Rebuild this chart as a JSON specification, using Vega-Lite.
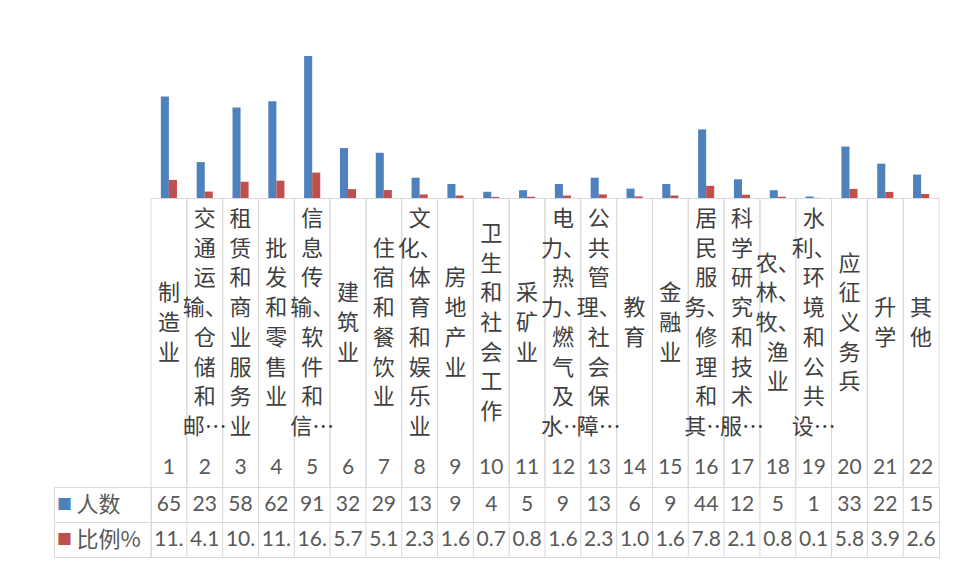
{
  "$schema": "https://vega.github.io/schema/vega-lite/v6.json",
  "padding": {"left": 53, "top": 42, "right": 0, "bottom": 0},
  "background": "white",
  "config": {"view": {"stroke": null}, "font": "Noto Sans CJK SC"},
  "datasets": {
    "industry": [
      {"idx": 1, "name": "制造业", "count": 65, "ratio": 11.6},
      {"idx": 2, "name": "交通运输、仓储和邮…", "count": 23, "ratio": 4.1},
      {"idx": 3, "name": "租赁和商业服务业", "count": 58, "ratio": 10.4},
      {"idx": 4, "name": "批发和零售业", "count": 62, "ratio": 11.1},
      {"idx": 5, "name": "信息传输、软件和信…", "count": 91, "ratio": 16.3},
      {"idx": 6, "name": "建筑业", "count": 32, "ratio": 5.7},
      {"idx": 7, "name": "住宿和餐饮业", "count": 29, "ratio": 5.1},
      {"idx": 8, "name": "文化、体育和娱乐业", "count": 13, "ratio": 2.3},
      {"idx": 9, "name": "房地产业", "count": 9, "ratio": 1.6},
      {"idx": 10, "name": "卫生和社会工作", "count": 4, "ratio": 0.7},
      {"idx": 11, "name": "采矿业", "count": 5, "ratio": 0.8},
      {"idx": 12, "name": "电力、热力、燃气及水…", "count": 9, "ratio": 1.6},
      {"idx": 13, "name": "公共管理、社会保障…", "count": 13, "ratio": 2.3},
      {"idx": 14, "name": "教育", "count": 6, "ratio": 1.0},
      {"idx": 15, "name": "金融业", "count": 9, "ratio": 1.6},
      {"idx": 16, "name": "居民服务、修理和其…", "count": 44, "ratio": 7.8},
      {"idx": 17, "name": "科学研究和技术服…", "count": 12, "ratio": 2.1},
      {"idx": 18, "name": "农、林、牧、渔业", "count": 5, "ratio": 0.8},
      {"idx": 19, "name": "水利、环境和公共设…", "count": 1, "ratio": 0.1},
      {"idx": 20, "name": "应征义务兵", "count": 33, "ratio": 5.8},
      {"idx": 21, "name": "升学", "count": 22, "ratio": 3.9},
      {"idx": 22, "name": "其他", "count": 15, "ratio": 2.6}
    ]
  },
  "columns": 2,
  "spacing": 0,
  "bounds": "flush",
  "concat": [
    {"width": 97, "height": 156, "data": {"values": [{}]}, "mark": {"type": "text", "text": ""}},
    {
      "width": 788, "height": 156,
      "data": {"name": "industry"},
      "transform": [{"fold": ["count", "ratio"], "as": ["series", "value"]}],
      "mark": {"type": "bar"},
      "encoding": {
        "x": {"field": "idx", "type": "ordinal", "scale": {"paddingInner": 0.55, "paddingOuter": 0.275},
              "axis": {"labels": false, "ticks": false, "domain": true, "domainColor": "#d9d9d9", "title": null, "grid": false}},
        "xOffset": {"field": "series", "type": "nominal", "scale": {"domain": ["count", "ratio"]}},
        "y": {"field": "value", "type": "quantitative", "scale": {"domain": [0, 100]}, "axis": null},
        "color": {"field": "series", "type": "nominal", "scale": {"domain": ["count", "ratio"], "range": ["#4f81bd", "#c0504d"]}, "legend": null}
      }
    },
    {"width": 97, "height": 250, "data": {"values": [{}]}, "mark": {"type": "text", "text": ""}},
    {
      "width": 788, "height": 250,
      "data": {"name": "industry"},
      "transform": [
        {"calculate": "split(datum.name, regexp('(?![、…])'))", "as": "lines"},
        {"calculate": "(length(datum.lines) - 1) / 2", "as": "lift"}
      ],
      "layer": [
        {"mark": {"type": "rule", "color": "#d9d9d9"},
         "encoding": {"x": {"field": "idx", "type": "ordinal", "bandPosition": 0, "scale": {"type": "band", "paddingInner": 0, "paddingOuter": 0}, "axis": null}}},
        {"mark": {"type": "rule", "color": "#d9d9d9"},
         "encoding": {"x": {"field": "idx", "type": "ordinal", "bandPosition": 1}}},
        {"mark": {"type": "text", "fontSize": 22, "lineHeight": 29.7, "color": "#404040", "baseline": "middle"},
         "encoding": {
           "x": {"field": "idx", "type": "ordinal"},
           "y": {"field": "lift", "type": "quantitative", "scale": {"domain": [-4.21, 4.21]}, "axis": null},
           "text": {"field": "lines"}}}
      ]
    },
    {"width": 97, "height": 39, "data": {"values": [{}]}, "mark": {"type": "text", "text": ""}},
    {
      "width": 788, "height": 39,
      "data": {"name": "industry"},
      "layer": [
        {"mark": {"type": "rule", "color": "#d9d9d9"},
         "encoding": {"x": {"field": "idx", "type": "ordinal", "bandPosition": 0, "scale": {"type": "band", "paddingInner": 0, "paddingOuter": 0}, "axis": null}}},
        {"mark": {"type": "rule", "color": "#d9d9d9"},
         "encoding": {"x": {"field": "idx", "type": "ordinal", "bandPosition": 1}}},
        {"mark": {"type": "text", "font": "Lato", "fontSize": 21, "color": "#595959", "baseline": "middle"},
         "encoding": {"x": {"field": "idx", "type": "ordinal"}, "text": {"field": "idx", "type": "ordinal"}}}
      ]
    },
    {
      "width": 97, "height": 35, "view": {"stroke": "#d9d9d9"},
      "data": {"values": [{"series": "人数"}]},
      "layer": [
        {"mark": {"type": "text", "text": "■", "color": "#4f81bd", "fontSize": 15, "dx": -38, "baseline": "middle"}, "encoding": {}},
        {"mark": {"type": "text", "align": "left", "dx": -26, "fontSize": 22, "color": "#595959", "baseline": "middle"}, "encoding": {"text": {"field": "series"}}}
      ]
    },
    {
      "width": 788, "height": 35, "view": {"stroke": "#d9d9d9"},
      "data": {"name": "industry"},
      "layer": [
        {"mark": {"type": "rule", "color": "#d9d9d9"},
         "encoding": {"x": {"field": "idx", "type": "ordinal", "bandPosition": 0, "scale": {"type": "band", "paddingInner": 0, "paddingOuter": 0}, "axis": null}}},
        {"mark": {"type": "text", "font": "Lato", "fontSize": 21, "color": "#595959", "baseline": "middle"},
         "encoding": {"x": {"field": "idx", "type": "ordinal"}, "text": {"field": "count", "type": "quantitative"}}}
      ]
    },
    {
      "width": 97, "height": 35, "view": {"stroke": "#d9d9d9"},
      "data": {"values": [{"series": "比例%"}]},
      "layer": [
        {"mark": {"type": "text", "text": "■", "color": "#c0504d", "fontSize": 15, "dx": -38, "baseline": "middle"}, "encoding": {}},
        {"mark": {"type": "text", "align": "left", "dx": -26, "fontSize": 22, "color": "#595959", "baseline": "middle"}, "encoding": {"text": {"field": "series"}}}
      ]
    },
    {
      "width": 788, "height": 35, "view": {"stroke": "#d9d9d9"},
      "data": {"name": "industry"},
      "layer": [
        {"mark": {"type": "rule", "color": "#d9d9d9"},
         "encoding": {"x": {"field": "idx", "type": "ordinal", "bandPosition": 0, "scale": {"type": "band", "paddingInner": 0, "paddingOuter": 0}, "axis": null}}},
        {"mark": {"type": "text", "font": "Lato", "fontSize": 21, "color": "#595959", "baseline": "middle", "limit": 35, "ellipsis": " "},
         "encoding": {"x": {"field": "idx", "type": "ordinal"}, "text": {"field": "ratio", "type": "quantitative", "format": ".1f"}}}
      ]
    }
  ]
}
